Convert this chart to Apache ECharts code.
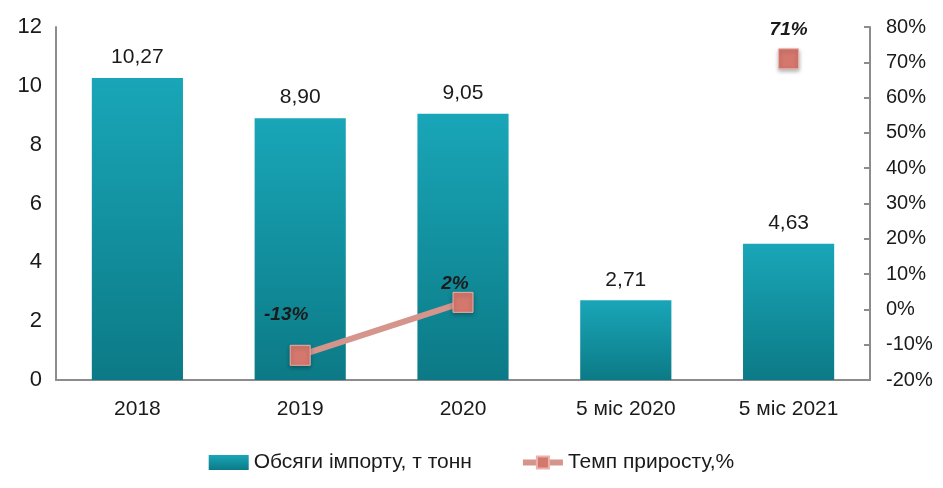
<!DOCTYPE html>
<html>
<head>
<meta charset="utf-8">
<script src="https://cdn.jsdelivr.net/npm/echarts@6/dist/echarts.min.js"></script>
<style>
  html, body { margin: 0; padding: 0; background: #fff; }
  #chart { width: 943px; height: 488px; }
</style>
</head>
<body>
<div id="chart"></div>
<script>
// Import volumes and growth rate
const categories = ['2018', '2019', '2020', '5 міс 2020', '5 міс 2021'];
const importVolume = [10.27, 8.90, 9.05, 2.71, 4.63];
const growthRate = [null, -13, 2, null, 71];
const leftTicks = [0, 2, 4, 6, 8, 10, 12];
const rightTicks = [-20, -10, 0, 10, 20, 30, 40, 50, 60, 70, 80];

const FONT = '"Liberation Sans", Arial, sans-serif';
// per-point label offsets for the growth labels
const growthLabelOffset = [null, [-14, -16], [-8, 6], null, [0, -4]];

const chart = echarts.init(document.getElementById('chart'));
chart.setOption({
  animation: false,
  grid: { left: 56, right: 73, top: 27, bottom: 108, containLabel: false },
  legend: {
    bottom: 10,
    left: 'center',
    itemGap: 48,
    itemWidth: 40,
    itemHeight: 15,
    textStyle: { fontFamily: FONT, fontSize: 21, color: '#1a1a1a' },
    data: [
      { name: 'Обсяги імпорту, т тонн', icon: 'rect' },
      { name: 'Темп приросту,%', lineStyle: { width: 6 } }
    ]
  },
  xAxis: {
    type: 'category',
    data: categories,
    axisLine: { lineStyle: { color: '#8c8c8c', width: 2 } },
    axisTick: { show: false },
    axisLabel: { fontFamily: FONT, fontSize: 21, color: '#1a1a1a', margin: 19 }
  },
  yAxis: [
    {
      type: 'value',
      min: leftTicks[0],
      max: leftTicks[leftTicks.length - 1],
      interval: 2,
      splitLine: { show: false },
      axisLine: { show: true, lineStyle: { color: '#8c8c8c', width: 2 } },
      axisTick: { show: false },
      axisLabel: { fontFamily: FONT, fontSize: 22, color: '#1a1a1a', margin: 14 }
    },
    {
      type: 'value',
      min: rightTicks[0],
      max: rightTicks[rightTicks.length - 1],
      interval: 10,
      position: 'right',
      splitLine: { show: false },
      axisLine: { show: true, lineStyle: { color: '#8c8c8c', width: 2 } },
      axisTick: { show: true, inside: true, length: 6, lineStyle: { color: '#8c8c8c', width: 2 } },
      axisLabel: { fontFamily: FONT, fontSize: 20, color: '#1a1a1a', margin: 16, formatter: '{value}%' }
    }
  ],
  series: [
    {
      name: 'Обсяги імпорту, т тонн',
      type: 'bar',
      yAxisIndex: 0,
      barWidth: '56%',
      data: importVolume,
      itemStyle: {
        color: new echarts.graphic.LinearGradient(0, 0, 0, 1, [
          { offset: 0, color: '#19a6b8' },
          { offset: 1, color: '#0c7a86' }
        ])
      },
      label: {
        show: true,
        position: 'top',
        distance: 10,
        fontFamily: FONT,
        fontSize: 21,
        color: '#1a1a1a',
        formatter: p => p.value.toFixed(2).replace('.', ',')
      }
    },
    {
      name: 'Темп приросту,%',
      type: 'line',
      yAxisIndex: 1,
      connectNulls: false,
      symbol: 'rect',
      symbolSize: 20,
      lineStyle: { color: '#d5958d', width: 6 },
      itemStyle: {
        color: '#d4776d',
        borderColor: '#eab2aa',
        borderWidth: 1,
        shadowColor: 'rgba(0,0,0,0.3)',
        shadowBlur: 4,
        shadowOffsetY: 2
      },
      data: growthRate.map((v, i) => v === null ? null : {
        value: v,
        label: {
          show: true,
          position: 'top',
          offset: growthLabelOffset[i],
          fontFamily: FONT,
          fontSize: 19,
          fontWeight: 'bold',
          fontStyle: 'italic',
          color: '#1a1a1a',
          formatter: v + '%'
        }
      })
    }
  ]
});
</script>
</body>
</html>
